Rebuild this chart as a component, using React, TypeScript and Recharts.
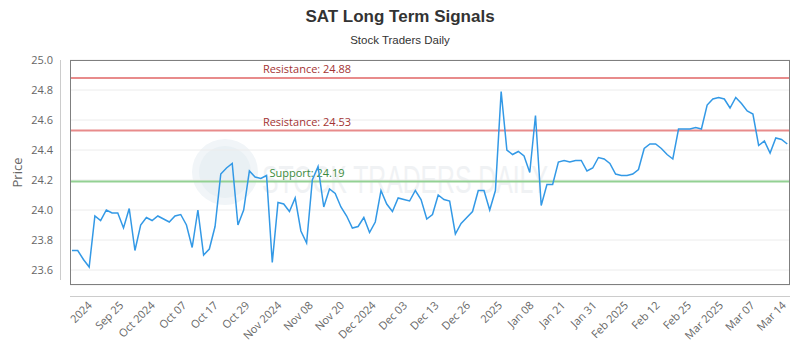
import React from 'react';
import { LineChart, Line, XAxis, YAxis, CartesianGrid, ReferenceLine } from 'recharts';

const prices = [
  23.73, 23.73, 23.67, 23.62, 23.96, 23.93, 24.0, 23.98, 23.98, 23.88,
  24.01, 23.73, 23.9, 23.95, 23.93, 23.96, 23.94, 23.92, 23.96, 23.97,
  23.9, 23.75, 24.0, 23.7, 23.74, 23.89, 24.24, 24.28, 24.31, 23.9,
  24.0, 24.26, 24.22, 24.21, 24.23, 23.65, 24.05, 24.04, 23.99, 24.08,
  23.86, 23.78, 24.2, 24.29, 24.02, 24.14, 24.11, 24.02, 23.96, 23.88,
  23.89, 23.95, 23.85, 23.92, 24.13, 24.04, 23.99, 24.08, 24.07, 24.06,
  24.13, 24.07, 23.94, 23.97, 24.1, 24.07, 24.06, 23.84, 23.91, 23.95,
  23.99, 24.13, 24.13, 24.0, 24.13, 24.79, 24.4, 24.37, 24.39, 24.36,
  24.25, 24.63, 24.03, 24.17, 24.17, 24.32, 24.33, 24.32, 24.33, 24.33,
  24.26, 24.28, 24.35, 24.34, 24.31, 24.24, 24.23, 24.23, 24.24, 24.27,
  24.41, 24.44, 24.44, 24.41, 24.37, 24.34, 24.54, 24.54, 24.54, 24.55,
  24.54, 24.7, 24.74, 24.75, 24.74, 24.68, 24.75, 24.71, 24.66, 24.64,
  24.43, 24.46, 24.38, 24.48, 24.47, 24.44,
];

const tickLabels = [
  '2024', 'Sep 25', 'Oct 2024', 'Oct 07', 'Oct 17', 'Oct 29', 'Nov 2024', 'Nov 08',
  'Nov 20', 'Dec 2024', 'Dec 03', 'Dec 13', 'Dec 26', '2025', 'Jan 08', 'Jan 21',
  'Jan 31', 'Feb 2025', 'Feb 12', 'Feb 25', 'Mar 2025', 'Mar 07', 'Mar 14',
];
const tickIndex = [
  3.1, 8.6, 14.1, 19.6, 25.1, 30.6, 36.2, 41.7, 47.2, 52.7, 58.2, 63.7,
  69.2, 74.8, 80.3, 85.8, 91.3, 96.8, 102.3, 107.8, 113.4, 118.9, 124.4,
];
const yTicks = [23.6, 23.8, 24.0, 24.2, 24.4, 24.6, 24.8, 25.0];
const resistanceLevels = [24.88, 24.53];
const supportLevels = [24.19];

const data = prices.map((price, i) => ({ i, price }));

const W = 800;
const H = 350;
const PLOT_L = 70;
const PLOT_R = 790;
const PLOT_T = 60;
const PLOT_B = 285;
const X_AXIS_H = 60;
const Y_AXIS_W = 60;

const tickFont = '"Open Sans", sans-serif';

const XTick = (props: any) => {
  const { x, y, index } = props;
  const label = tickLabels[index] ?? '';
  const tx = x + 3;
  const ty = y + 19;
  return (
    <text
      x={tx}
      y={ty}
      transform={`rotate(-45 ${tx} ${ty})`}
      textAnchor="end"
      fill="#666"
      fontSize={11}
      fontFamily={tickFont}
    >
      {label}
    </text>
  );
};

const makeLevelLabel = (text: string, color: string) => (props: any) => {
  const vb = props.viewBox || {};
  return (
    <text
      x={vb.x + 237}
      y={vb.y - 5}
      textAnchor="middle"
      fill={color}
      fontSize={11}
      fontFamily={tickFont}
    >
      {text}
    </text>
  );
};

export default function App() {
  return (
    <div style={{ position: 'absolute', left: 0, top: 0, width: W, height: H, background: '#fff' }}>
      <svg width={W} height={H} style={{ position: 'absolute', left: 0, top: 0 }}>
        <circle cx={225} cy={172} r={33} fill="#f1f5f8" />
        <circle cx={225} cy={172} r={26} fill="#e9f0f4" />
        <text
          x={262}
          y={193}
          fontSize={38}
          fontFamily='"Liberation Sans Narrow", sans-serif'
          fill="#f0f2f4"
          textLength={286}
          lengthAdjust="spacingAndGlyphs"
        >
          STOCK TRADERS DAILY
        </text>
      </svg>
      <div style={{ position: 'absolute', left: 0, top: 0 }}>
        <LineChart
          width={W}
          height={H}
          data={data}
          margin={{ top: PLOT_T, right: W - PLOT_R, left: PLOT_L - Y_AXIS_W, bottom: H - PLOT_B - X_AXIS_H }}
        >
          <CartesianGrid vertical={false} stroke="#ececec" />
          <XAxis
            dataKey="i"
            type="number"
            domain={[-0.35, 125.48]}
            ticks={tickIndex}
            interval={0}
            allowDataOverflow
            axisLine={false}
            tickLine={false}
            tickSize={0}
            height={X_AXIS_H}
            tick={<XTick />}
          />
          <YAxis
            type="number"
            domain={[23.5, 25.0]}
            ticks={yTicks}
            interval={0}
            allowDataOverflow
            axisLine={false}
            tickLine={false}
            tickSize={0}
            tickMargin={17}
            width={Y_AXIS_W}
            tickFormatter={(v: number) => v.toFixed(1)}
            tick={{ fill: '#666', fontSize: 11, fontFamily: tickFont }}
            label={{
              value: 'Price',
              angle: -90,
              position: 'insideLeft',
              offset: 7,
              style: { fill: '#666', fontSize: 13, fontFamily: tickFont, textAnchor: 'middle' },
            }}
          />
          {resistanceLevels.map((lv) => (
            <ReferenceLine
              key={'r' + lv}
              y={lv}
              stroke="#e88b8b"
              strokeWidth={2}
              label={makeLevelLabel(`Resistance: ${lv.toFixed(2)}`, '#a33333')}
            />
          ))}
          {supportLevels.map((lv) => (
            <ReferenceLine
              key={'s' + lv}
              y={lv}
              stroke="#93d193"
              strokeWidth={2}
              label={makeLevelLabel(`Support: ${lv.toFixed(2)}`, '#3b8a3b')}
            />
          ))}
          <Line
            type="linear"
            dataKey="price"
            stroke="#3399e6"
            strokeWidth={1.5}
            dot={false}
            isAnimationActive={false}
          />
        </LineChart>
      </div>
      <svg width={W} height={H} style={{ position: 'absolute', left: 0, top: 0, pointerEvents: 'none' }}>
        <rect
          x={PLOT_L + 0.5}
          y={PLOT_T + 0.5}
          width={PLOT_R - PLOT_L - 1}
          height={PLOT_B - PLOT_T - 1}
          fill="none"
          stroke="#7f7f7f"
          strokeWidth={1}
        />
        <line x1={60.5} y1={PLOT_T} x2={60.5} y2={PLOT_B - 5} stroke="#cccccc" strokeWidth={1} />
        <line x1={PLOT_L} y1={296.5} x2={PLOT_R} y2={296.5} stroke="#cccccc" strokeWidth={1} />
        <text
          x={400}
          y={22}
          textAnchor="middle"
          fontSize={17}
          fontWeight="bold"
          fontFamily='"Liberation Sans Narrow", sans-serif'
          fill="#333"
        >
          SAT Long Term Signals
        </text>
        <text
          x={400}
          y={44}
          textAnchor="middle"
          fontSize={11.5}
          fontFamily='"Liberation Sans Narrow", sans-serif'
          fill="#333"
        >
          Stock Traders Daily
        </text>
      </svg>
    </div>
  );
}
